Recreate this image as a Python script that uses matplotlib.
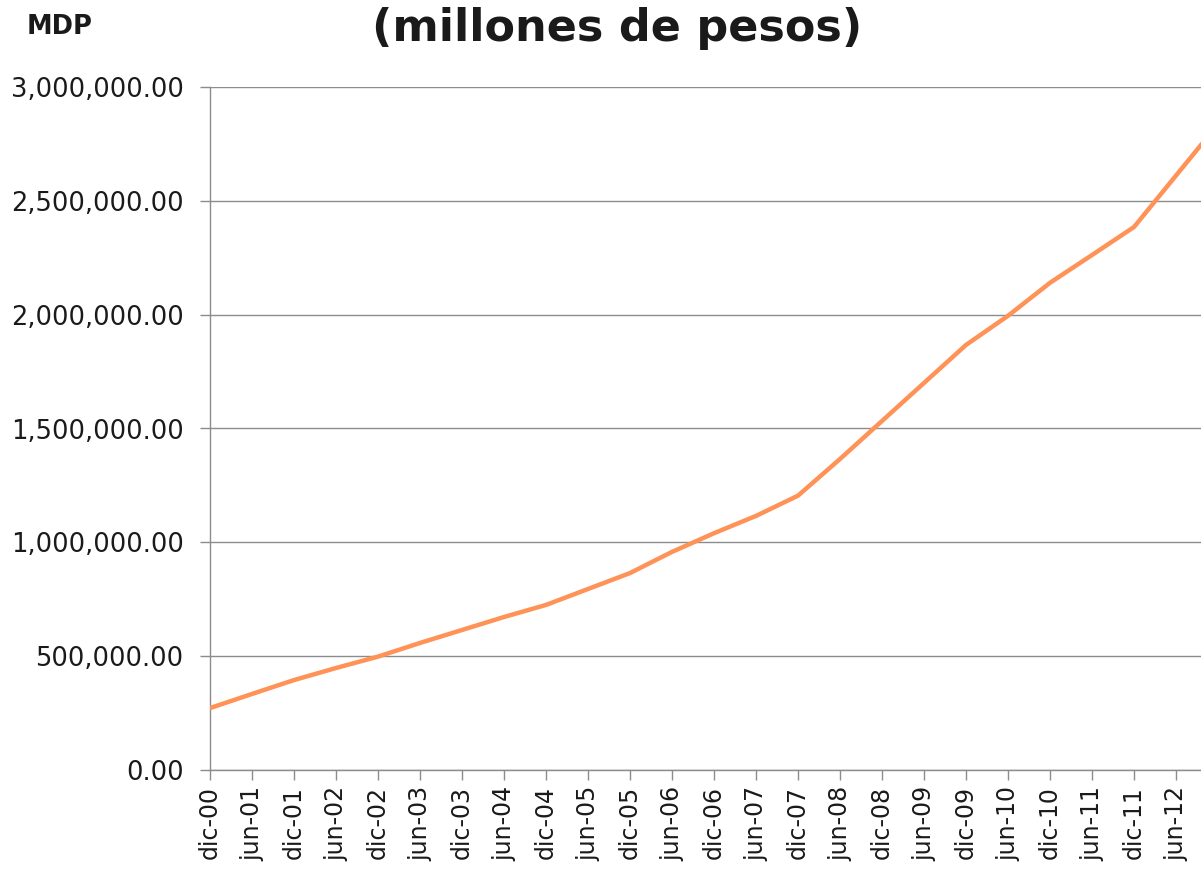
import matplotlib
matplotlib.use("Agg")
import matplotlib.pyplot as plt
from matplotlib.ticker import FuncFormatter, MultipleLocator

categories = ["dic-00", "jun-01", "dic-01", "jun-02", "dic-02", "jun-03", "dic-03",
              "jun-04", "dic-04", "jun-05", "dic-05", "jun-06", "dic-06", "jun-07",
              "dic-07", "jun-08", "dic-08", "jun-09", "dic-09", "jun-10", "dic-10",
              "jun-11", "dic-11", "jun-12", "dic-12"]
mdp = [272000, 334000, 395000, 448000, 498000, 558000, 615000,
       672000, 725000, 795000, 865000, 958000, 1040000, 1116000,
       1205000, 1366000, 1533000, 1700000, 1867000, 1995000, 2140000,
       2262000, 2385000, 2611000, 2837000]

plt.rcParams['font.family'] = ['DejaVu Sans']

W, H = 1201, 872
fig = plt.figure(figsize=(W / 100, H / 100), dpi=100)
ax = fig.add_axes([210 / W, 1 - 770 / H, 1 - 210 / W, (770 - 87) / H])

x = list(range(len(categories)))
ax.plot(x, mdp, color="#FF9257", lw=3.2, solid_capstyle="round", zorder=3)

ax.set_ylim(0, 3000000)
ax.set_xlim(0, (1201 - 210) / 42.0)
ax.yaxis.set_major_locator(MultipleLocator(500000))
ax.yaxis.set_major_formatter(FuncFormatter(lambda v, p: f"{v:,.2f}"))
ax.grid(axis="y", color="#8c8c8c", lw=1.0)
ax.set_axisbelow(True)

ax.set_xticks(x[:24])
ax.set_xticklabels(categories[:24], rotation=90)

for s in ["top", "right"]:
    ax.spines[s].set_visible(False)
for s in ["left", "bottom"]:
    ax.spines[s].set_color("#8c8c8c")
    ax.spines[s].set_linewidth(1.0)

ax.tick_params(axis="both", colors="#8c8c8c", length=7, width=1.0,
               labelcolor="#1a1a1a")
ax.tick_params(axis="y", pad=12, labelsize=18.5)
ax.tick_params(axis="x", pad=4.5, labelsize=17)

fig.text(27 / W, 1 - 27 / H, "MDP", fontsize=18.5, fontweight="bold",
         color="#1a1a1a", va="center", ha="left")
fig.text(617 / W, 1 - 29 / H, "(millones de pesos)", fontsize=32,
         fontweight="bold", color="#1a1a1a", va="center", ha="center")

fig.savefig("out.png", dpi=100)
